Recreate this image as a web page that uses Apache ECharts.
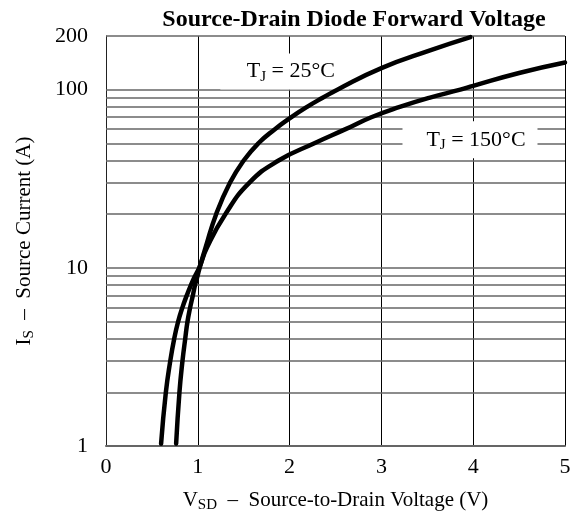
<!DOCTYPE html>
<html>
<head>
<meta charset="utf-8">
<script src="https://cdn.jsdelivr.net/npm/echarts@6.0.0/dist/echarts.min.js"></script>
<style>
  html, body { margin: 0; padding: 0; background: #fff; }
  #main { width: 576px; height: 525px; }
</style>
</head>
<body>
<div id="main"></div>
<script>
// forward voltage curves
var vsd25 = [0.764, 0.80, 0.833, 0.863, 0.888, 0.917, 0.946, 0.97, 0.997, 1.02, 1.085, 1.20, 1.35, 1.50, 1.66, 1.84, 2.0, 2.19, 2.36, 2.52, 3.0, 3.53, 3.97];
var is25  = [1.03, 2, 3, 4, 5, 6, 7, 8, 9, 10, 13, 20, 30, 40, 50, 60, 69, 80, 90, 100, 132, 166, 197];

var vsd150 = [0.60, 0.652, 0.70, 0.743, 0.786, 0.833, 0.88, 0.925, 0.97, 1.015, 1.10, 1.30, 1.56, 1.88, 2.27, 2.61, 2.89, 3.20, 3.52, 3.86, 4.0, 4.5, 5.0];
var is150  = [1.03, 2, 3, 4, 5, 6, 7, 8, 9, 10, 13, 20, 30, 40, 50, 60, 70, 80, 90, 100, 105, 124, 142];

var yTickLabels = [1, 10, 100, 200];
var gridCurrents = [1, 2, 3, 4, 5, 6, 7, 8, 9, 10, 20, 30, 40, 50, 60, 70, 80, 90, 100, 200];

var serif = '"Liberation Serif", "DejaVu Serif", serif';

function pairs(xs, ys) {
    return xs.map(function (x, i) { return [x, ys[i]]; });
}

var myChart = echarts.init(document.getElementById('main'));

// T, subscript, rest
function subText(size, subSize) {
    return {
        t: { fontSize: size, fontFamily: serif, color: '#000', lineHeight: size + 4 },
        s: { fontSize: subSize, fontFamily: serif, color: '#000', lineHeight: subSize, verticalAlign: 'bottom' }
    };
}

var option = {
    animation: false,
    title: {
        text: 'Source-Drain Diode Forward Voltage',
        left: 349,
        textAlign: 'center',
        top: 3,
        textStyle: { fontFamily: serif, fontSize: 24, fontWeight: 'bold', color: '#000' }
    },
    grid: { left: 106, right: 11, top: 36, bottom: 79, outerBoundsMode: 'none' },
    xAxis: {
        type: 'value',
        min: 0,
        max: 5,
        interval: 1,
        name: '{t|V}{s|SD}{t|  –  Source-to-Drain Voltage (V)}',
        nameLocation: 'middle',
        nameGap: 42,
        nameTextStyle: { rich: subText(21, 15) },
        axisLine: { lineStyle: { color: '#666', width: 2 } },
        axisTick: { show: false },
        axisLabel: { fontFamily: serif, fontSize: 22, color: '#000', margin: 10 },
        splitLine: { show: true, lineStyle: { color: '#000', width: 1 } }
    },
    yAxis: {
        type: 'log',
        logBase: 10,
        min: 1,
        max: 200,
        name: '{t|I}{s|S}{t|  –  Source Current (A)}',
        nameLocation: 'middle',
        nameGap: 69,
        nameTextStyle: { rich: subText(21, 15) },
        axisLine: { show: true, lineStyle: { color: '#222', width: 1 } },
        axisTick: { show: false },
        axisLabel: { fontFamily: serif, fontSize: 22, color: '#000', margin: 18, customValues: yTickLabels },
        splitLine: { show: false }
    },
    series: [{
        name: 'grid',
        type: 'line',
        data: [],
        z: 1,
        silent: true,
        markLine: {
            silent: true,
            z: 1,
            symbol: 'none',
            label: { show: false },
            lineStyle: { color: '#666', width: 1.5, type: 'solid' },
            data: gridCurrents.map(function (v) { return { yAxis: v }; })
        }
    }, {
        name: 'labels',
        type: 'scatter',
        z: 10,
        silent: true,
        symbol: 'rect',
        itemStyle: { color: '#fff', opacity: 1 },
        label: { show: true, position: 'inside', rich: subText(22, 15) },
        data: [{
            value: [1.948, 126.3],
            symbolSize: [129, 36],
            label: { formatter: '{t|T}{s|J}{t| = 25°C}', offset: [6, 0] }
        }, {
            value: [3.965, 52.3],
            symbolSize: [135, 37],
            label: { formatter: '{t|T}{s|J}{t| = 150°C}', offset: [6, 0] }
        }]
    }, {
        name: 'TJ = 25°C',
        type: 'line',
        z: 11,
        smooth: 0.5,
        showSymbol: false,
        lineStyle: { color: '#000', width: 4.5, cap: 'round' },
        data: pairs(vsd25, is25)
    }, {
        name: 'TJ = 150°C',
        type: 'line',
        z: 11,
        smooth: 0.5,
        showSymbol: false,
        lineStyle: { color: '#000', width: 4.5, cap: 'round' },
        data: pairs(vsd150, is150)
    }]
};
myChart.setOption(option);
</script>
</body>
</html>
